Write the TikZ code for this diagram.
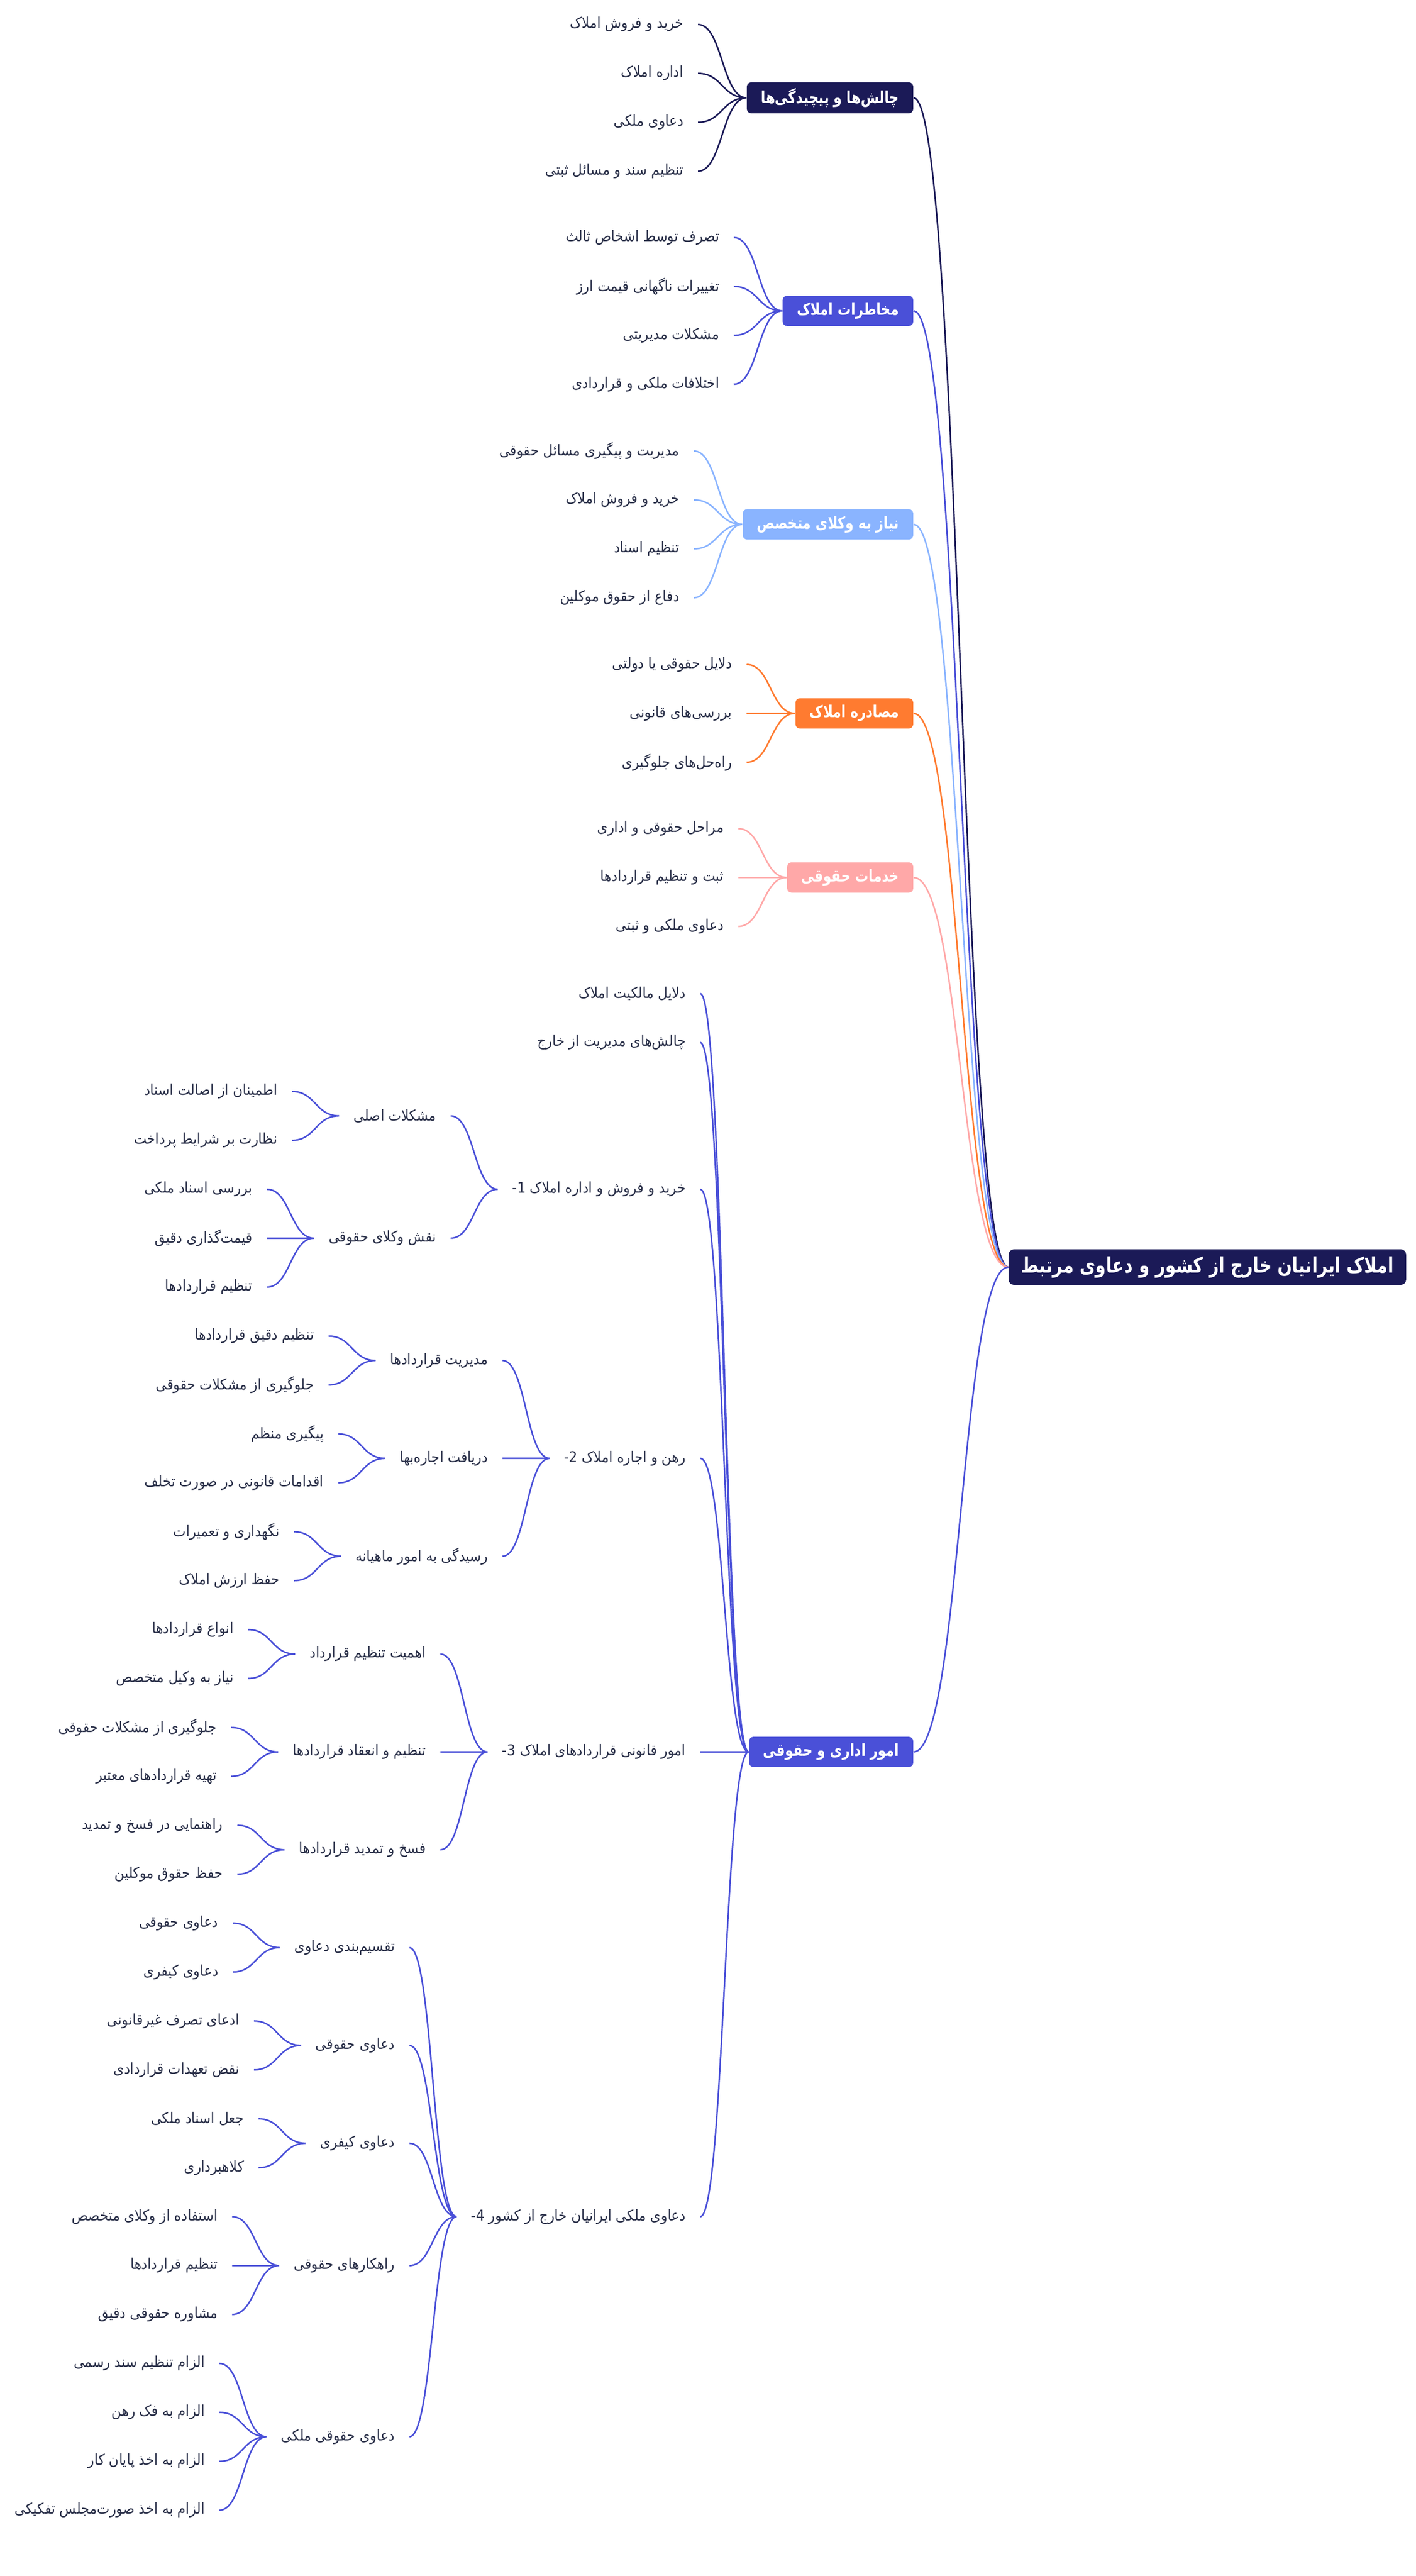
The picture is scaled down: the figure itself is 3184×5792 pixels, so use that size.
\documentclass[tikz,border=0pt]{standalone}
\usepackage{fontspec}
\usepackage{tikz}
\usetikzlibrary{calc,backgrounds}
\TeXXeTstate=1
\newfontfamily\fa[Script=Arabic,FakeStretch=0.9]{DejaVu Sans}
\newfontfamily\fabox[Script=Arabic,FakeStretch=0.8]{DejaVu Sans}
\definecolor{navy}{HTML}{1B1A57}
\definecolor{indigo}{HTML}{4A50D8}
\definecolor{sky}{HTML}{8AB4FF}
\definecolor{tangerine}{HTML}{FF7B30}
\definecolor{salmon}{HTML}{FFA8A8}
\definecolor{ink}{HTML}{2A3049}
\tikzstyle{mindmap}=[
  x=0.25pt,y=-0.25pt
]
\tikzstyle{mmroot}=[
  anchor=east,fill=navy,text=white,rounded corners=3pt,inner xsep=7pt,minimum height=20pt,font=\fabox\bfseries\fontsize{12}{14}\selectfont
]
\tikzstyle{mmcat}=[
  anchor=east,text=white,rounded corners=2.5pt,inner xsep=8pt,minimum height=17pt,font=\fabox\bfseries\fontsize{9.3}{11}\selectfont
]
\tikzstyle{mmleaf}=[
  anchor=east,text=ink,inner xsep=8pt,font=\fa\fontsize{8.4}{10}\selectfont
]
\tikzstyle{mmlink}=[
  line width=0.85pt,
  to path={let \p1=(\tikztostart), \p2=(\tikztotarget) in .. controls ({0.5*\x1+0.5*\x2},\y1) and ({0.5*\x1+0.5*\x2},\y2) .. (\tikztotarget)}
]

\begin{document}
\begin{tikzpicture}[mindmap]
  \useasboundingbox (0,0) rectangle (3184,5792);
  \node (root) [mmroot] at (3163,2849) {\beginR املاک ایرانیان خارج از کشور و دعاوی مرتبط\endR};
  % first level
  \node (c1) [mmcat,fill=navy] at ($(root.west) + (-213,-2629)$) {\beginR چالش‌ها و پیچیدگی‌ها\endR};
  \node (c2) [mmcat,fill=indigo] at ($(root.west) + (-213,-2150)$) {\beginR مخاطرات املاک\endR};
  \node (c3) [mmcat,fill=sky] at ($(root.west) + (-213,-1670)$) {\beginR نیاز به وکلای متخصص\endR};
  \node (c4) [mmcat,fill=tangerine] at ($(root.west) + (-213,-1245)$) {\beginR مصادره املاک\endR};
  \node (c5) [mmcat,fill=salmon] at ($(root.west) + (-213,-876)$) {\beginR خدمات حقوقی\endR};
  \node (c6) [mmcat,fill=indigo] at ($(root.west) + (-213,1090)$) {\beginR امور اداری و حقوقی\endR};
  % leaves of the upper branches
  \node (c1a) [mmleaf] at ($(c1.west) + (-109,-165)$) {\beginR خرید و فروش املاک\endR};
  \node (c1b) [mmleaf] at ($(c1.west) + (-109,-55)$) {\beginR اداره املاک\endR};
  \node (c1c) [mmleaf] at ($(c1.west) + (-109,55)$) {\beginR دعاوی ملکی\endR};
  \node (c1d) [mmleaf] at ($(c1.west) + (-109,165)$) {\beginR تنظیم سند و مسائل ثبتی\endR};
  \node (c2a) [mmleaf] at ($(c2.west) + (-109,-165)$) {\beginR تصرف توسط اشخاص ثالث\endR};
  \node (c2b) [mmleaf] at ($(c2.west) + (-109,-55)$) {\beginR تغییرات ناگهانی قیمت ارز\endR};
  \node (c2c) [mmleaf] at ($(c2.west) + (-109,55)$) {\beginR مشکلات مدیریتی\endR};
  \node (c2d) [mmleaf] at ($(c2.west) + (-109,165)$) {\beginR اختلافات ملکی و قراردادی\endR};
  \node (c3a) [mmleaf] at ($(c3.west) + (-109,-165)$) {\beginR مدیریت و پیگیری مسائل حقوقی\endR};
  \node (c3b) [mmleaf] at ($(c3.west) + (-109,-55)$) {\beginR خرید و فروش املاک\endR};
  \node (c3c) [mmleaf] at ($(c3.west) + (-109,55)$) {\beginR تنظیم اسناد\endR};
  \node (c3d) [mmleaf] at ($(c3.west) + (-109,165)$) {\beginR دفاع از حقوق موکلین\endR};
  \node (c4a) [mmleaf] at ($(c4.west) + (-109,-110)$) {\beginR دلایل حقوقی یا دولتی\endR};
  \node (c4b) [mmleaf] at ($(c4.west) + (-109,0)$) {\beginR بررسی‌های قانونی\endR};
  \node (c4c) [mmleaf] at ($(c4.west) + (-109,110)$) {\beginR راه‌حل‌های جلوگیری\endR};
  \node (c5a) [mmleaf] at ($(c5.west) + (-109,-110)$) {\beginR مراحل حقوقی و اداری\endR};
  \node (c5b) [mmleaf] at ($(c5.west) + (-109,0)$) {\beginR ثبت و تنظیم قراردادها\endR};
  \node (c5c) [mmleaf] at ($(c5.west) + (-109,110)$) {\beginR دعاوی ملکی و ثبتی\endR};
  % the big branch
  \node (c6a) [mmleaf] at ($(c6.west) + (-109,-1705)$) {\beginR دلایل مالکیت املاک\endR};
  \node (c6b) [mmleaf] at ($(c6.west) + (-109,-1595)$) {\beginR چالش‌های مدیریت از خارج\endR};
  \node (c6c) [mmleaf] at ($(c6.west) + (-109,-1265)$) {1- \beginR خرید و فروش و اداره املاک\endR};
  \node (c6d) [mmleaf] at ($(c6.west) + (-109,-660)$) {2- \beginR رهن و اجاره املاک\endR};
  \node (c6e) [mmleaf] at ($(c6.west) + (-109,0)$) {3- \beginR امور قانونی قراردادهای املاک\endR};
  \node (c6f) [mmleaf] at ($(c6.west) + (-109,1045)$) {4- \beginR دعاوی ملکی ایرانیان خارج از کشور\endR};
  \node (c6c1) [mmleaf] at ($(c6c.west) + (-106,-165)$) {\beginR مشکلات اصلی\endR};
  \node (c6c2) [mmleaf] at ($(c6c.west) + (-106,110)$) {\beginR نقش وکلای حقوقی\endR};
  \node (c6c1a) [mmleaf] at ($(c6c1.west) + (-106,-55)$) {\beginR اطمینان از اصالت اسناد\endR};
  \node (c6c1b) [mmleaf] at ($(c6c1.west) + (-106,55)$) {\beginR نظارت بر شرایط پرداخت\endR};
  \node (c6c2a) [mmleaf] at ($(c6c2.west) + (-106,-110)$) {\beginR بررسی اسناد ملکی\endR};
  \node (c6c2b) [mmleaf] at ($(c6c2.west) + (-106,0)$) {\beginR قیمت‌گذاری دقیق\endR};
  \node (c6c2c) [mmleaf] at ($(c6c2.west) + (-106,110)$) {\beginR تنظیم قراردادها\endR};
  \node (c6d1) [mmleaf] at ($(c6d.west) + (-106,-220)$) {\beginR مدیریت قراردادها\endR};
  \node (c6d2) [mmleaf] at ($(c6d.west) + (-106,0)$) {\beginR دریافت اجاره‌بها\endR};
  \node (c6d3) [mmleaf] at ($(c6d.west) + (-106,220)$) {\beginR رسیدگی به امور ماهیانه\endR};
  \node (c6d1a) [mmleaf] at ($(c6d1.west) + (-106,-55)$) {\beginR تنظیم دقیق قراردادها\endR};
  \node (c6d1b) [mmleaf] at ($(c6d1.west) + (-106,55)$) {\beginR جلوگیری از مشکلات حقوقی\endR};
  \node (c6d2a) [mmleaf] at ($(c6d2.west) + (-106,-55)$) {\beginR پیگیری منظم\endR};
  \node (c6d2b) [mmleaf] at ($(c6d2.west) + (-106,55)$) {\beginR اقدامات قانونی در صورت تخلف\endR};
  \node (c6d3a) [mmleaf] at ($(c6d3.west) + (-106,-55)$) {\beginR نگهداری و تعمیرات\endR};
  \node (c6d3b) [mmleaf] at ($(c6d3.west) + (-106,55)$) {\beginR حفظ ارزش املاک\endR};
  \node (c6e1) [mmleaf] at ($(c6e.west) + (-106,-220)$) {\beginR اهمیت تنظیم قرارداد\endR};
  \node (c6e2) [mmleaf] at ($(c6e.west) + (-106,0)$) {\beginR تنظیم و انعقاد قراردادها\endR};
  \node (c6e3) [mmleaf] at ($(c6e.west) + (-106,220)$) {\beginR فسخ و تمدید قراردادها\endR};
  \node (c6e1a) [mmleaf] at ($(c6e1.west) + (-106,-55)$) {\beginR انواع قراردادها\endR};
  \node (c6e1b) [mmleaf] at ($(c6e1.west) + (-106,55)$) {\beginR نیاز به وکیل متخصص\endR};
  \node (c6e2a) [mmleaf] at ($(c6e2.west) + (-106,-55)$) {\beginR جلوگیری از مشکلات حقوقی\endR};
  \node (c6e2b) [mmleaf] at ($(c6e2.west) + (-106,55)$) {\beginR تهیه قراردادهای معتبر\endR};
  \node (c6e3a) [mmleaf] at ($(c6e3.west) + (-106,-55)$) {\beginR راهنمایی در فسخ و تمدید\endR};
  \node (c6e3b) [mmleaf] at ($(c6e3.west) + (-106,55)$) {\beginR حفظ حقوق موکلین\endR};
  \node (c6f1) [mmleaf] at ($(c6f.west) + (-106,-605)$) {\beginR تقسیم‌بندی دعاوی\endR};
  \node (c6f2) [mmleaf] at ($(c6f.west) + (-106,-385)$) {\beginR دعاوی حقوقی\endR};
  \node (c6f3) [mmleaf] at ($(c6f.west) + (-106,-165)$) {\beginR دعاوی کیفری\endR};
  \node (c6f4) [mmleaf] at ($(c6f.west) + (-106,110)$) {\beginR راهکارهای حقوقی\endR};
  \node (c6f5) [mmleaf] at ($(c6f.west) + (-106,495)$) {\beginR دعاوی حقوقی ملکی\endR};
  \node (c6f1a) [mmleaf] at ($(c6f1.west) + (-106,-55)$) {\beginR دعاوی حقوقی\endR};
  \node (c6f1b) [mmleaf] at ($(c6f1.west) + (-106,55)$) {\beginR دعاوی کیفری\endR};
  \node (c6f2a) [mmleaf] at ($(c6f2.west) + (-106,-55)$) {\beginR ادعای تصرف غیرقانونی\endR};
  \node (c6f2b) [mmleaf] at ($(c6f2.west) + (-106,55)$) {\beginR نقض تعهدات قراردادی\endR};
  \node (c6f3a) [mmleaf] at ($(c6f3.west) + (-106,-55)$) {\beginR جعل اسناد ملکی\endR};
  \node (c6f3b) [mmleaf] at ($(c6f3.west) + (-106,55)$) {\beginR کلاهبرداری\endR};
  \node (c6f4a) [mmleaf] at ($(c6f4.west) + (-106,-110)$) {\beginR استفاده از وکلای متخصص\endR};
  \node (c6f4b) [mmleaf] at ($(c6f4.west) + (-106,0)$) {\beginR تنظیم قراردادها\endR};
  \node (c6f4c) [mmleaf] at ($(c6f4.west) + (-106,110)$) {\beginR مشاوره حقوقی دقیق\endR};
  \node (c6f5a) [mmleaf] at ($(c6f5.west) + (-106,-165)$) {\beginR الزام تنظیم سند رسمی\endR};
  \node (c6f5b) [mmleaf] at ($(c6f5.west) + (-106,-55)$) {\beginR الزام به فک رهن\endR};
  \node (c6f5c) [mmleaf] at ($(c6f5.west) + (-106,55)$) {\beginR الزام به اخذ پایان کار\endR};
  \node (c6f5d) [mmleaf] at ($(c6f5.west) + (-106,165)$) {\beginR الزام به اخذ صورت‌مجلس تفکیکی\endR};
  \begin{scope}[on background layer]
    \draw [mmlink,navy] (root.west) to (c1.east);
    \draw [mmlink,indigo] (root.west) to (c2.east);
    \draw [mmlink,sky] (root.west) to (c3.east);
    \draw [mmlink,tangerine] (root.west) to (c4.east);
    \draw [mmlink,salmon] (root.west) to (c5.east);
    \draw [mmlink,indigo] (root.west) to (c6.east);
    \draw [mmlink,navy] (c1.west) to (c1a.east) (c1.west) to (c1b.east) (c1.west) to (c1c.east) (c1.west) to (c1d.east);
    \draw [mmlink,indigo] (c2.west) to (c2a.east) (c2.west) to (c2b.east) (c2.west) to (c2c.east) (c2.west) to (c2d.east);
    \draw [mmlink,sky] (c3.west) to (c3a.east) (c3.west) to (c3b.east) (c3.west) to (c3c.east) (c3.west) to (c3d.east);
    \draw [mmlink,tangerine] (c4.west) to (c4a.east) (c4.west) to (c4b.east) (c4.west) to (c4c.east);
    \draw [mmlink,salmon] (c5.west) to (c5a.east) (c5.west) to (c5b.east) (c5.west) to (c5c.east);
    \draw [mmlink,indigo] (c6.west) to (c6a.east) (c6.west) to (c6b.east) (c6.west) to (c6c.east) (c6.west) to (c6d.east) (c6.west) to (c6e.east) (c6.west) to (c6f.east);
    \draw [mmlink,indigo] (c6c.west) to (c6c1.east) (c6c.west) to (c6c2.east);
    \draw [mmlink,indigo] (c6c1.west) to (c6c1a.east) (c6c1.west) to (c6c1b.east);
    \draw [mmlink,indigo] (c6c2.west) to (c6c2a.east) (c6c2.west) to (c6c2b.east) (c6c2.west) to (c6c2c.east);
    \draw [mmlink,indigo] (c6d.west) to (c6d1.east) (c6d.west) to (c6d2.east) (c6d.west) to (c6d3.east);
    \draw [mmlink,indigo] (c6d1.west) to (c6d1a.east) (c6d1.west) to (c6d1b.east);
    \draw [mmlink,indigo] (c6d2.west) to (c6d2a.east) (c6d2.west) to (c6d2b.east);
    \draw [mmlink,indigo] (c6d3.west) to (c6d3a.east) (c6d3.west) to (c6d3b.east);
    \draw [mmlink,indigo] (c6e.west) to (c6e1.east) (c6e.west) to (c6e2.east) (c6e.west) to (c6e3.east);
    \draw [mmlink,indigo] (c6e1.west) to (c6e1a.east) (c6e1.west) to (c6e1b.east);
    \draw [mmlink,indigo] (c6e2.west) to (c6e2a.east) (c6e2.west) to (c6e2b.east);
    \draw [mmlink,indigo] (c6e3.west) to (c6e3a.east) (c6e3.west) to (c6e3b.east);
    \draw [mmlink,indigo] (c6f.west) to (c6f1.east) (c6f.west) to (c6f2.east) (c6f.west) to (c6f3.east) (c6f.west) to (c6f4.east) (c6f.west) to (c6f5.east);
    \draw [mmlink,indigo] (c6f1.west) to (c6f1a.east) (c6f1.west) to (c6f1b.east);
    \draw [mmlink,indigo] (c6f2.west) to (c6f2a.east) (c6f2.west) to (c6f2b.east);
    \draw [mmlink,indigo] (c6f3.west) to (c6f3a.east) (c6f3.west) to (c6f3b.east);
    \draw [mmlink,indigo] (c6f4.west) to (c6f4a.east) (c6f4.west) to (c6f4b.east) (c6f4.west) to (c6f4c.east);
    \draw [mmlink,indigo] (c6f5.west) to (c6f5a.east) (c6f5.west) to (c6f5b.east) (c6f5.west) to (c6f5c.east) (c6f5.west) to (c6f5d.east);
  \end{scope}
\end{tikzpicture}
\end{document}
